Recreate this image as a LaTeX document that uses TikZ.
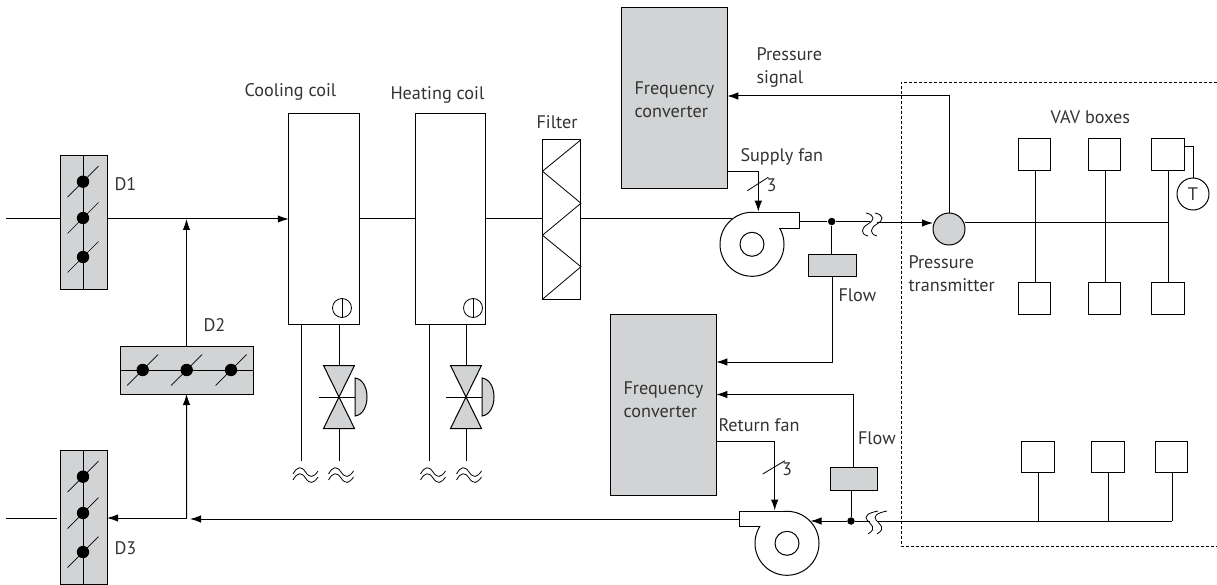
\documentclass[tikz,border=0pt]{standalone}
\usepackage{fontspec}
\setmainfont{PT Sans}
\usetikzlibrary{arrows.meta}
\definecolor{boxgray}{HTML}{D1D3D4}
\definecolor{labelgray}{HTML}{333333}
\tikzset{
  graybox/.style={draw,fill=boxgray,inner sep=0pt,outer sep=0pt},
  whitebox/.style={draw,fill=white,inner sep=0pt,outer sep=0pt},
  vavbox/.style={whitebox,minimum width=32.5pt,minimum height=32pt},
  flowbox/.style={graybox,minimum width=47.5pt,minimum height=22.5pt},
  fcbox/.style={graybox,minimum width=105.5pt,minimum height=181pt},
  damperv/.style={graybox,minimum width=47pt,minimum height=133.5pt},
  coilbox/.style={whitebox,minimum width=70.5pt,minimum height=210pt},
  label/.style={inner sep=0pt,anchor=west,align=left,text=labelgray,font=\fontsize{18.2}{23}\selectfont},
  joint/.style={circle,fill,inner sep=0pt,minimum size=7.5pt},
  ring/.style={circle,draw,inner sep=0pt,outer sep=0pt},
  blade/.pic={\fill (0,0) circle[radius=6.2pt]; \draw[line width=.7pt] (-15.5,15.5) -- (15.5,-15.5);},
  valve/.pic={
    \filldraw[fill=boxgray] (-15.5,-31.5) -- (15.5,-31.5) -- (-15.5,31.5) -- (15.5,31.5) -- cycle;
    \draw (-20,0) -- (16,0);
    \filldraw[fill=boxgray] (16,-19) .. controls (24,-18) and (28,-9) .. (28,0) .. controls (28,9) and (24,18) .. (16,19) -- cycle;
    \coordinate (-top) at (0,-31.5);
    \coordinate (-bot) at (0,31.5);
  },
  mains/.pic={
    \draw[line width=.8pt] (-12.5,2) .. controls (-8,-6) and (-4,-6) .. (0,0) .. controls (4,6) and (8,6) .. (12.5,-1);
    \draw[line width=.8pt] (-12.5,8) .. controls (-8,0) and (-4,0) .. (0,6) .. controls (4,12) and (8,12) .. (12.5,5);
  },
  coilmark/.pic={\draw[line width=.8pt] (0,0) circle[radius=9.5pt]; \draw[line width=.8pt] (0,-9.5) -- (0,9.5);},
}
\begin{document}
\begin{tikzpicture}[x=1pt,y=-1pt,line width=1pt,>={Latex[length=11pt,width=7.5pt]}]
\useasboundingbox (0,0) rectangle (1217,585);
% outline of the zone with the VAV boxes
\draw[line width=.8pt,dash pattern=on 3pt off 2pt] (1217,82) -- (901,82) -- (901,546) -- (1217,546);
% dampers
\node[damperv] (d1) at (83.5,222.5) {};
\node[damperv] (d3) at (83.5,517.5) {};
\node[graybox,minimum width=133pt,minimum height=48pt] (d2) at (186.5,370) {};
\draw (d1.north) -- (d1.south);
\draw (d3.north) -- (d3.south);
\draw (d2.west) -- (d2.east);
\foreach \y in {181.7,218,257} \pic at (83,\y) {blade};
\foreach \y in {476.7,513,552} \pic at (83,\y) {blade};
\foreach \x in {142.7,186.7,231} \pic at (\x,370) {blade};
% coils and filter
\node[coilbox] (cool) at (324,219) {};
\node[coilbox] (heat) at (450.5,219) {};
\node[whitebox,minimum width=38.5pt,minimum height=159.5pt] (filter) at (561.7,219.5) {};
\draw[line width=.8pt] (filter.north east) -- ++(-38.5,31.5) -- ++(38.5,32) -- ++(-38.5,32) -- ++(38.5,31.5) -- (filter.south west);
\pic at (342,308) {coilmark};
\pic at (473,308) {coilmark};
\pic (v1) at (339,397) {valve};
\pic (v2) at (466,397) {valve};
\coordinate (c1a) at (301,461);
\coordinate (c1b) at (339,461);
\coordinate (c2a) at (429,461);
\coordinate (c2b) at (466,461);
\draw (c1a |- cool.south) -- (c1a);
\draw (v1-top |- cool.south) -- (v1-top);
\draw (v1-bot) -- (c1b);
\draw (c2a |- heat.south) -- (c2a);
\draw (v2-top |- heat.south) -- (v2-top);
\draw (v2-bot) -- (c2b);
\foreach \x in {305.5,341,433,469} \pic at (\x,472) {mains};
% supply air
\coordinate (inlet) at (6,219);
\coordinate (outlet) at (6,518);
\node[ring,minimum size=64pt] (sfan) at (752,244.3) {};
\node[ring,minimum size=24pt] (sfanhub) at (752,244.3) {};
\node[ring,fill=boxgray,minimum size=32pt] (ptrans) at (949,229) {};
\draw (inlet) -- (inlet -| d1.west);
\draw[->] (d1.east |- inlet) -- (inlet -| cool.west);
\draw (cool.east |- inlet) -- (inlet -| heat.west);
\draw (heat.east |- inlet) -- (inlet -| filter.west);
\draw (filter.east |- inlet) -- (732,219);
\draw[->] (d2.north) -- (d2.north |- inlet);
\fill[white] (752.5,213) rectangle (799,227.8);
\draw (752,212.3) -- (799.7,212.3) -- (799.7,228.3) -- (779,228.3);
\node[joint] (sjoint) at (831.7,221.5) {};
\draw (799.7,221.5) -- (sjoint) -- (870,221.5);
\draw[line width=.8pt] (866,213) .. controls (875,215) and (875,220) .. (868,224) .. controls (861,228) and (860,234) .. (868,236);
\draw[line width=.8pt] (875,213) .. controls (884,215) and (884,220) .. (877,224) .. controls (870,228) and (869,234) .. (877,236);
\coordinate (sbreak) at (877,223);
\draw[->] (sbreak) -- (sbreak -| ptrans.west);
% return air
\node[ring,minimum size=64pt] (rfan) at (787,543.3) {};
\node[ring,minimum size=24pt] (rfanhub) at (787,543.3) {};
\fill[white] (786.5,512) rectangle (740,526.2);
\draw (787,511.3) -- (739.3,511.3) -- (739.3,526.7) -- (759.7,526.7);
\coordinate (rfanout) at (739.3,519);
\coordinate (d2feed) at (186.7,518);
\draw[->] (rfanout) -- (190,519);
\draw (outlet) -- (57,518);
\draw[->] (d2feed) -- (d2feed -| d3.east);
\draw[->] (d2feed) -- (d2.south);
\node[joint] (rjoint) at (851,521) {};
\draw[->] (rjoint) -- (810.5,521);
\coordinate (rbreak) at (878,521);
\draw (rjoint) -- (870,521);
\draw[line width=.8pt] (878,511) .. controls (868,513) and (864,516) .. (867,520) .. controls (870,524) and (878,528) .. (868,534);
\draw[line width=.8pt] (887,511) .. controls (877,513) and (873,516) .. (876,520) .. controls (879,524) and (887,528) .. (877,534);
% frequency converters
\node[fcbox] (fc1) at (674.5,98.5) {};
\node[fcbox] (fc2) at (663.5,404.7) {};
\coordinate (sdrive) at (758.3,171.7);
\draw[->] (sdrive -| fc1.east) -- (sdrive) -- (758.3,211.7);
\draw[line width=.8pt] (747.3,190.7) -- (768.3,177.3);
\coordinate (rdrive) at (774.7,441);
\draw[->] (rdrive -| fc2.east) -- (rdrive) -- (774.7,510.5);
\draw[line width=.8pt] (762.7,474) -- (785,460.7);
\coordinate (psignal) at (949,96);
\draw[->] (ptrans.north) -- (psignal) -- (psignal -| fc1.east);
% flow measurement
\node[flowbox] (flow1) at (832.5,265.5) {};
\node[flowbox] (flow2) at (854,479) {};
\coordinate (f1turn) at (832.3,362);
\coordinate (f2turn) at (853.6,394.5);
\draw (sjoint) -- (flow1.north -| sjoint);
\draw[->] (flow1.south -| f1turn) -- (f1turn) -- (f1turn -| fc2.east);
\draw (rjoint) -- (flow2.south -| rjoint);
\draw[->] (flow2.north -| f2turn) -- (f2turn) -- (f2turn -| fc2.east);
% VAV boxes, upper group
\coordinate (bus1end) at (1168,223);
\foreach \n/\x/\s in {a/1034.5/1035,b/1104.5/1105,c/1168/1168} {
  \node[vavbox] (top\n) at (\x,155) {};
  \node[vavbox] (mid\n) at (\x,298) {};
  \draw (\s,171) -- (\s,282);
}
\draw (ptrans.east |- bus1end) -- (bus1end);
\node[ring,minimum size=32pt] (tsens) at (1193,194) {\fontsize{18.2}{20}\selectfont\textcolor{labelgray}{T}};
\coordinate (tturn) at (1193,146);
\draw[line width=.8pt] (tturn -| topc.east) -- (tturn) -- (tsens.north);
% VAV boxes, lower group
\coordinate (bus2end) at (1172,521);
\foreach \n/\x/\s in {a/1038/1038,b/1108/1108,c/1171.5/1172} {
  \node[vavbox,minimum height=31pt] (low\n) at (\x,457.2) {};
  \draw (\s,472.7) -- (\s,521);
}
\draw (rbreak) -- (bus2end);
% labels
\node[label] (lcool) at (244,92) {Cooling coil};
\node[label] (lheat) at (390,95) {Heating coil};
\node[label] (lfilter) at (536,122) {Filter};
\node[label] (ld1) at (114,184) {D1};
\node[label] (ld2) at (203,325) {D2};
\node[label] (ld3) at (114,548) {D3};
\node[label] (lsignal) at (756,67) {Pressure\\signal};
\node[label] (lfc1) at (634,99.5) {Frequency\\converter};
\node[label] (lfc2) at (623,399.5) {Frequency\\converter};
\node[label] (lsfan) at (740,157) {Supply fan};
\node[label] (lrfan) at (718,425) {Return fan};
\node[label] (ls3) at (766,185) {3};
\node[label] (lr3) at (781.5,469) {3};
\node[label] (lflow1) at (838,295) {Flow};
\node[label] (lflow2) at (857.5,438) {Flow};
\node[label] (lpt) at (908,273.5) {Pressure\\transmitter};
\node[label] (lvav) at (1050,117) {VAV boxes};
\end{tikzpicture}
\end{document}
